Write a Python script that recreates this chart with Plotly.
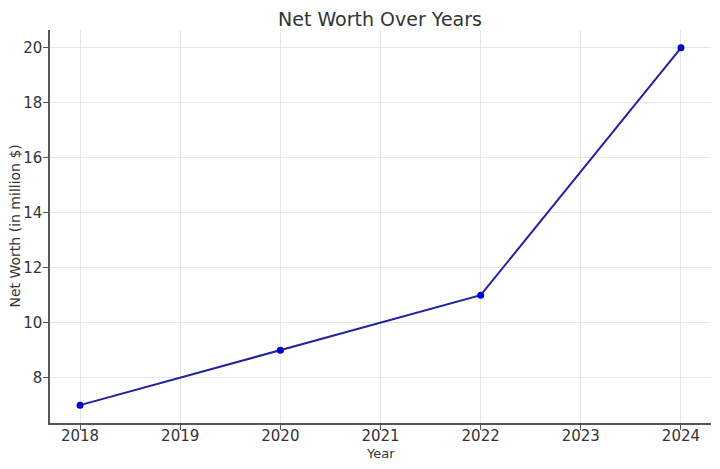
import plotly.graph_objects as go

years = [2018, 2020, 2022, 2024]
net_worth = [7, 9, 11, 20]
x_ticks = [2018, 2019, 2020, 2021, 2022, 2023, 2024]
y_ticks = [8, 10, 12, 14, 16, 18, 20]

fig = go.Figure()
fig.add_trace(go.Scatter(
    x=years,
    y=net_worth,
    mode="lines+markers",
    line=dict(color="#22229f", width=2),
    marker=dict(color="#0000cc", size=7),
    showlegend=False
))

# matplotlib-like axes: left and bottom spines only, light grid
axis_common = dict(
    showline=True,
    linecolor="#555555",
    linewidth=1.5,
    ticks="outside",
    ticklen=5,
    tickcolor="#555555",
    showgrid=True,
    gridcolor="#e6e6e6",
    gridwidth=1,
    zeroline=False,
    automargin=False,
    tickfont=dict(family="DejaVu Sans", size=15, color="#333333"),
    mirror=False
)

fig.update_xaxes(
    range=[2017.7, 2024.3],
    tickvals=x_ticks,
    ticktext=[str(t) for t in x_ticks],
    ticklabelstandoff=-7,
    **axis_common
)
fig.update_yaxes(
    range=[6.35, 20.65],
    tickvals=y_ticks,
    ticklabelstandoff=-2,
    **axis_common
)

# axis titles as annotations so they can sit right at the figure edge
fig.add_annotation(text="Year", xref="paper", yref="paper", x=0.5, y=0,
                   xanchor="center", yanchor="middle", yshift=-30, showarrow=False,
                   font=dict(family="DejaVu Sans", size=13, color="#333333"))
fig.add_annotation(text="Net Worth (in million $)", xref="paper", yref="paper", x=0, y=0.5,
                   xanchor="center", yanchor="middle", xshift=-36, textangle=-90, showarrow=False,
                   font=dict(family="DejaVu Sans", size=14, color="#333333"))

# page body has an 8px margin, so the figure is sized and offset to compensate
fig.update_layout(
    width=712,
    height=461,
    title=dict(text="Net Worth Over Years", x=(42 + 330) / 712, xanchor="center", y=1 - 11 / 461, yanchor="middle",
               font=dict(family="DejaVu Sans", size=19, color="#333333")),
    plot_bgcolor="white",
    paper_bgcolor="white",
    margin=dict(l=42, r=9, t=22, b=46)
)

fig.write_html("out.html")
